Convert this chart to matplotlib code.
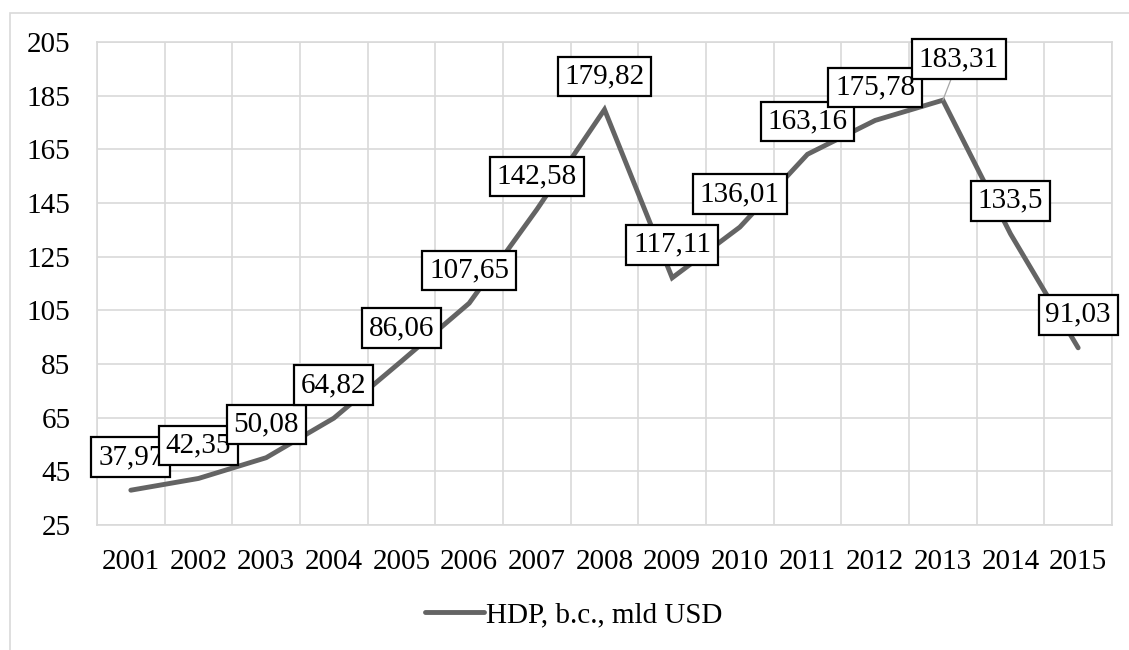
import matplotlib.pyplot as plt
from matplotlib.patches import Rectangle
import numpy as np

plt.rcParams['font.family'] = ['Liberation Serif', 'DejaVu Serif']

years = ['2001', '2002', '2003', '2004', '2005', '2006', '2007', '2008',
         '2009', '2010', '2011', '2012', '2013', '2014', '2015']
hdp = [37.97, 42.35, 50.08, 64.82, 86.06, 107.65, 142.58, 179.82,
       117.11, 136.01, 163.16, 175.78, 183.31, 133.5, 91.03]
series_name = 'HDP, b.c., mld USD'
yticks = [25, 45, 65, 85, 105, 125, 145, 165, 185, 205]

fig = plt.figure(figsize=(11.29, 6.5), dpi=100)
ax = fig.add_axes([97 / 1129, 1 - 525 / 650, (1112 - 97) / 1129, (525 - 42) / 650])

# chart area border (light gray, partly cut off like the original)
fig.patches.append(Rectangle((10 / 1129, -0.05), 1.2, 1 - 13 / 650 + 0.05,
                             transform=fig.transFigure, fill=False,
                             edgecolor='#d9d9d9', lw=1.2, zorder=0))

x = np.arange(len(years))
line, = ax.plot(x, hdp, color='#646464', lw=3.5, solid_capstyle='round',
                solid_joinstyle='miter', zorder=3, label=series_name)

ax.set_xlim(-0.5, len(years) - 0.5)
ax.set_ylim(25, 205)
ax.set_yticks(yticks)
ax.set_xticks(x)
ax.set_xticklabels(years)
ax.set_xticks(np.arange(-0.5, len(years), 1), minor=True)
ax.grid(False)
ax.grid(True, which='minor', axis='x', color='#d9d9d9', lw=1.2)
ax.grid(True, which='major', axis='y', color='#d9d9d9', lw=1.2)
ax.tick_params(which='both', length=0, labelsize=21, colors='black')
ax.tick_params(axis='y', pad=19)
ax.tick_params(axis='x', pad=17)
for s in ax.spines.values():
    s.set_color('#d9d9d9')
    s.set_linewidth(1.2)

# data labels
box = dict(boxstyle='square,pad=0.23', fc='white', ec='black', lw=1.6)
for i, v in enumerate(hdp):
    txt = str(v).replace('.', ',')
    if years[i] == '2013':
        ax.annotate(txt, xy=(i, v), xytext=(16, 41), textcoords='offset pixels',
                    ha='center', va='center', fontsize=21, zorder=5, bbox=box,
                    arrowprops=dict(arrowstyle='-', color='#a6a6a6', lw=0.9,
                                    shrinkA=0, shrinkB=0))
    else:
        ax.annotate(txt, xy=(i, v), xytext=(0, 33), textcoords='offset pixels',
                    ha='center', va='center', fontsize=21, zorder=5, bbox=box)

fig.legend(handles=[line], loc='center', bbox_to_anchor=(574 / 1129, 1 - 615 / 650),
           frameon=False, fontsize=21, handlelength=2.0, handletextpad=0.1)

fig.savefig('out.png', dpi=100)
